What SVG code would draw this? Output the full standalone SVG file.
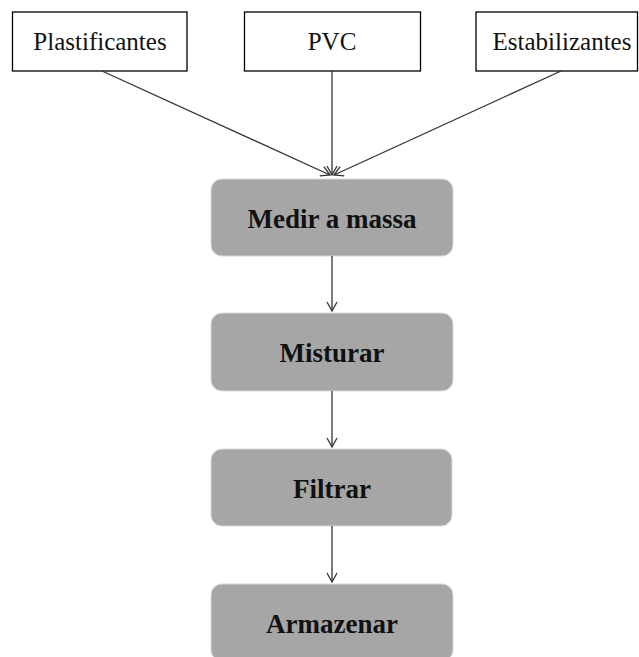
<svg xmlns="http://www.w3.org/2000/svg" width="639" height="657" viewBox="0 0 639 657">
  <style>
    .src rect { fill: #ffffff; stroke: #000000; stroke-width: 1.3; }
    .src text { font-family: "Liberation Serif", "Times New Roman", serif; font-size: 25px; fill: #111111; text-anchor: middle; }
    .step rect { fill: #a6a6a6; stroke: #d9d9d9; stroke-width: 1; }
    .step text { font-family: "Liberation Serif", "Times New Roman", serif; font-size: 27px; font-weight: bold; fill: #111111; text-anchor: middle; }
    .edges line { stroke: #333333; stroke-width: 1.3; fill: none; marker-end: url(#arrow); }
  </style>
  <defs>
    <marker id="arrow" markerUnits="userSpaceOnUse" markerWidth="14" markerHeight="14" refX="10" refY="6" orient="auto">
      <path d="M1,1 L10,6 L1,11" fill="none" stroke="#333333" stroke-width="1.3"/>
    </marker>
  </defs>

  <rect width="639" height="657" fill="#ffffff"/>

  <!-- input materials -->
  <g id="plastificantes" class="src">
    <rect x="12.5" y="12" width="174.5" height="59"/>
    <text x="100" y="50">Plastificantes</text>
  </g>
  <g id="pvc" class="src">
    <rect x="244.5" y="12" width="176" height="59"/>
    <text x="332" y="50">PVC</text>
  </g>
  <g id="estabilizantes" class="src">
    <rect x="476" y="12" width="161.5" height="59"/>
    <text x="562" y="50">Estabilizantes</text>
  </g>

  <!-- process steps -->
  <g id="medir" class="step">
    <rect x="211" y="179" width="242" height="77" rx="11" ry="11"/>
    <text x="332" y="228">Medir a massa</text>
  </g>
  <g id="misturar" class="step">
    <rect x="211" y="313" width="242" height="78" rx="11" ry="11"/>
    <text x="332" y="362">Misturar</text>
  </g>
  <g id="filtrar" class="step">
    <rect x="211" y="449" width="241" height="77" rx="11" ry="11"/>
    <text x="332" y="498">Filtrar</text>
  </g>
  <g id="armazenar" class="step">
    <rect x="211" y="584" width="242" height="77" rx="11" ry="11"/>
    <text x="332" y="633">Armazenar</text>
  </g>

  <!-- connectors -->
  <g id="edges" class="edges">
    <line x1="102" y1="71" x2="330" y2="175"/>
    <line x1="332" y1="71" x2="332" y2="175"/>
    <line x1="561" y1="71" x2="334" y2="175"/>
    <line x1="332" y1="256" x2="332" y2="311"/>
    <line x1="332" y1="391" x2="332" y2="447"/>
    <line x1="332" y1="526" x2="332" y2="582"/>
  </g>
</svg>
